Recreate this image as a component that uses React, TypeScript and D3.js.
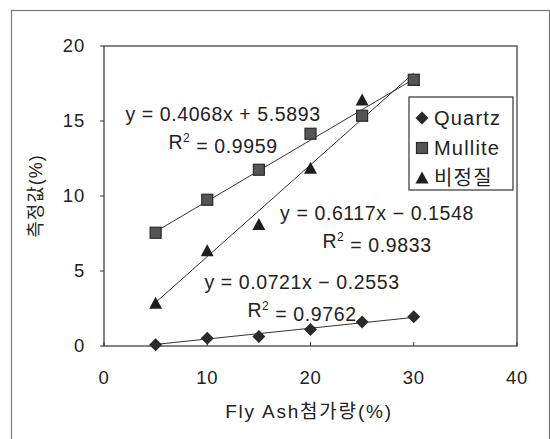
import React from 'react';
import * as d3 from 'd3';

// 첨가량 (x) and measured values for each phase
const xValues = [5, 10, 15, 20, 25, 30];
const quartz = [0.08, 0.52, 0.63, 1.1, 1.6, 1.95];
const mullite = [7.55, 9.75, 11.75, 14.15, 15.35, 17.75];
const amorphous = [2.85, 6.35, 8.1, 11.85, 16.4, 17.7];

const seriesNames = ['Quartz', 'Mullite', '비정질'];
const slopes = [0.0721, 0.4068, 0.6117];
const intercepts = [-0.2553, 5.5893, -0.1548];
const eqLabels = ['y = 0.0721x − 0.2553', 'y = 0.4068x + 5.5893', 'y = 0.6117x − 0.1548'];
const r2Labels = ['0.9762', '0.9959', '0.9833'];

const xTicks = [0, 10, 20, 30, 40];
const yTicks = [0, 5, 10, 15, 20];

const font = '"Liberation Sans", Arial, "Noto Sans CJK KR", sans-serif';
const ink = '#222';

const Marker = ({ kind, x, y }: { kind: number; x: number; y: number }) => {
  if (kind === 0) {
    const r = 6.5;
    return <path d={`M${x},${y - r}L${x + r},${y}L${x},${y + r}L${x - r},${y}Z`} fill="#2a2a2a" />;
  }
  if (kind === 1) {
    const s = 5.5;
    return <rect x={x - s} y={y - s} width={s * 2} height={s * 2} fill="#555" stroke="#2a2a2a" strokeWidth={1.2} />;
  }
  const h = 6.5;
  return <path d={`M${x},${y - h}L${x + h},${y + h - 1}L${x - h},${y + h - 1}Z`} fill="#1e1e1e" />;
};

const App = () => {
  const width = 550;
  const height = 439;
  const margin = { left: 104, top: 46, right: 517, bottom: 346 };

  const xScale = d3.scaleLinear().domain([0, 40]).range([margin.left, margin.right]);
  const yScale = d3.scaleLinear().domain([0, 20]).range([margin.bottom, margin.top]);

  const series = [quartz, mullite, amorphous];
  const drawOrder = [0, 2, 1]; // squares end up on top, as in the source
  const xFirst = xValues[0];
  const xLast = xValues[xValues.length - 1];

  // label placement for equation text (center x, line-1 y)
  const eqPos = [
    { x: 302, y: 282 },
    { x: 223, y: 114 },
    { x: 377, y: 213 },
  ];

  return (
    <svg
      width={width}
      height={height}
      style={{ position: 'absolute', left: 0, top: 0, background: '#fff' }}
      fontFamily={font}
    >
      <rect x={11.5} y={10.5} width={538} height={440} fill="none" stroke="#777" strokeWidth={1.2} />

      {/* plot area */}
      <rect
        x={margin.left}
        y={margin.top}
        width={margin.right - margin.left}
        height={margin.bottom - margin.top}
        fill="none"
        stroke="#333"
        strokeWidth={1.2}
      />

      {yTicks.map((t) => (
        <g key={'y' + t}>
          <line x1={margin.left - 4} x2={margin.left} y1={yScale(t)} y2={yScale(t)} stroke="#333" />
          <text
            x={margin.left - 19}
            y={yScale(t)}
            dy="0.35em"
            textAnchor="end"
            fontSize={18.5}
            letterSpacing={0.8}
            fill={ink}
          >
            {t}
          </text>
        </g>
      ))}

      {xTicks.map((t) => (
        <g key={'x' + t}>
          <line x1={xScale(t)} x2={xScale(t)} y1={margin.bottom} y2={margin.bottom - 4} stroke="#333" />
          <text
            x={xScale(t)}
            y={378}
            dy="0.35em"
            textAnchor="middle"
            fontSize={18.5}
            letterSpacing={0.8}
            fill={ink}
          >
            {t}
          </text>
        </g>
      ))}

      <text
        transform={`translate(36,${(margin.top + margin.bottom) / 2}) rotate(-90)`}
        textAnchor="middle"
        dy="0.35em"
        fontSize={18}
        letterSpacing={1}
        fill={ink}
      >
        측정값(%)
      </text>
      <text x={309} y={411} dy="0.35em" textAnchor="middle" fontSize={19} letterSpacing={1.8} fill={ink}>
        Fly Ash첨가량(%)
      </text>

      {/* trendlines */}
      {slopes.map((m, i) => (
        <line
          key={'tl' + i}
          x1={xScale(xFirst)}
          y1={yScale(m * xFirst + intercepts[i])}
          x2={xScale(xLast)}
          y2={yScale(m * xLast + intercepts[i])}
          stroke="#333"
          strokeWidth={1}
        />
      ))}

      {drawOrder.map((i) =>
        series[i].map((v, j) => <Marker key={`m${i}-${j}`} kind={i} x={xScale(xValues[j])} y={yScale(v)} />)
      )}

      {eqLabels.map((eq, i) => (
        <g key={'eq' + i} fontSize={19.5} fill={ink} letterSpacing={0.6}>
          <text x={eqPos[i].x} y={eqPos[i].y} dy="0.35em" textAnchor="middle">
            {eq}
          </text>
          <text x={eqPos[i].x} y={eqPos[i].y + 28} dy="0.35em" textAnchor="middle">
            R<tspan fontSize={12} dy="-0.6em">2</tspan>
            <tspan dy="0.6em">{' = ' + r2Labels[i]}</tspan>
          </text>
        </g>
      ))}

      {/* legend */}
      <rect x={409} y={97} width={104} height={93} fill="#fff" stroke="#333" strokeWidth={1.2} />
      {seriesNames.map((name, i) => (
        <g key={'lg' + i}>
          <Marker kind={i} x={422} y={118 + i * 30} />
          <text x={434} y={118 + i * 30} dy="0.35em" fontSize={20} letterSpacing={1.2} fill={ink}>
            {name}
          </text>
        </g>
      ))}
    </svg>
  );
};

export default App;
